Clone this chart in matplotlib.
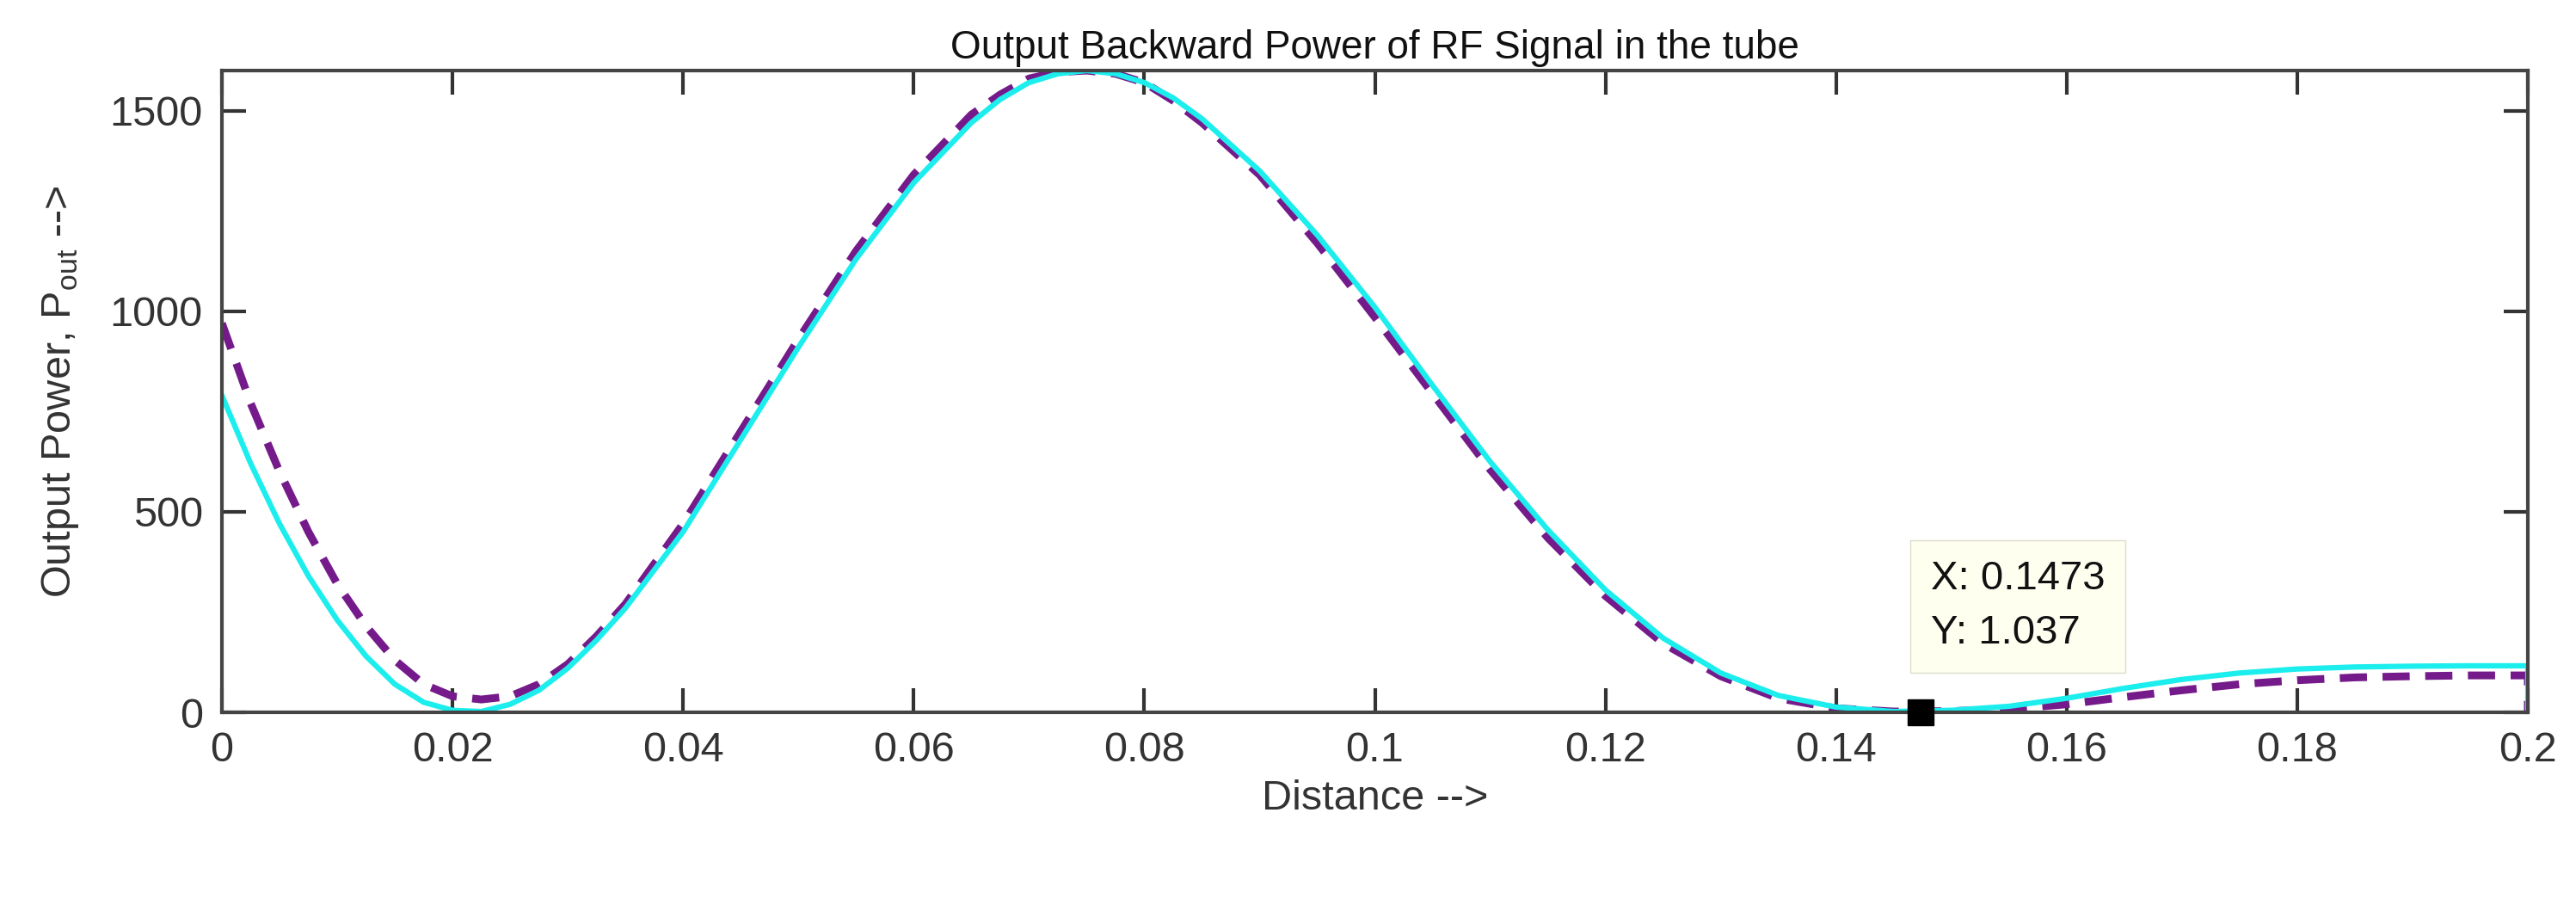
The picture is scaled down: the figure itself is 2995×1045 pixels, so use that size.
import matplotlib
matplotlib.use('Agg')
import matplotlib.pyplot as plt

plt.rcParams['font.family'] = ['Liberation Sans', 'DejaVu Sans']

# distance samples
dist = [0, .0025, .005, .0075, .01, .0125, .015, .0175, .02, .0225, .025, .0275, .03, .0325, .035,
        .04, .045, .05, .055, .06, .065, .0675, .07, .0725, .075, .0775, .08, .0825, .085,
        .09, .095, .1, .105, .11, .115, .12, .125, .13, .135, .14, .145,
        .15, .155, .16, .165, .17, .175, .18, .185, .19, .195, .2, .2]
p_solid = [790, 620, 470, 340, 230, 140, 70, 25, 5, 2, 20, 55, 110, 180, 260,
           450, 680, 910, 1130, 1320, 1470, 1528, 1570, 1592, 1600, 1592, 1570, 1532, 1480,
           1350, 1190, 1010, 815, 625, 455, 305, 185, 98, 42, 13, 2,
           5, 15, 35, 60, 82, 98, 108, 113, 115, 116, 116, 0]
p_dash = [970, 770, 600, 450, 320, 215, 130, 70, 40, 32, 40, 70, 120, 190, 270,
          470, 700, 930, 1150, 1340, 1490, 1540, 1580, 1596, 1600, 1592, 1570, 1525, 1470,
          1340, 1170, 985, 795, 605, 435, 290, 172, 90, 35, 10, 2,
          3, 8, 20, 38, 55, 70, 80, 87, 90, 92, 92, 0]
tip_x, tip_y = 0.1473, 1.037

fig = plt.figure(figsize=(29.95, 10.45), dpi=100)
ax = fig.add_axes([258/2995, 1 - 828/1045, (2939-258)/2995, (828-82)/1045])

ax.plot(dist, p_dash, color='#751A8A', lw=6.5, dashes=(3.5, 2))
ax.plot(dist, p_solid, color='#1CEDED', lw=4.5)
ax.plot(tip_x, tip_y, 's', color='black', ms=22, clip_on=False, zorder=5)
ax.text(tip_x + 0.0009, 150, 'X: 0.1473\nY: 1.037', fontsize=34, linespacing=1.55,
        va='bottom', ha='left', color='#111111',
        bbox=dict(boxstyle='square,pad=0.5', fc='#FFFFF0', ec='#DDDDCC'))

ax.set_xlim(0, 0.2)
ax.set_ylim(0, 1600)
ax.set_xticks([0, 0.02, 0.04, 0.06, 0.08, 0.1, 0.12, 0.14, 0.16, 0.18, 0.2])
ax.set_xticklabels(['0', '0.02', '0.04', '0.06', '0.08', '0.1', '0.12', '0.14', '0.16', '0.18', '0.2'])
ax.set_yticks([0, 500, 1000, 1500])
ax.tick_params(direction='in', top=True, right=True, length=20, width=3,
               labelsize=35, colors='#333333', pad=16)
for s in ax.spines.values():
    s.set_linewidth(3)
    s.set_color('#444444')

ax.set_title('Output Backward Power of RF Signal in the tube', fontsize=33, color='#111111', pad=10)
ax.set_xlabel('Distance -->', fontsize=35, color='#333333', labelpad=8)
ax.set_ylabel('Output Power, P$_{\\mathregular{out}}$ -->', fontsize=35, color='#333333', labelpad=24)

fig.savefig('out.png', dpi=100)
